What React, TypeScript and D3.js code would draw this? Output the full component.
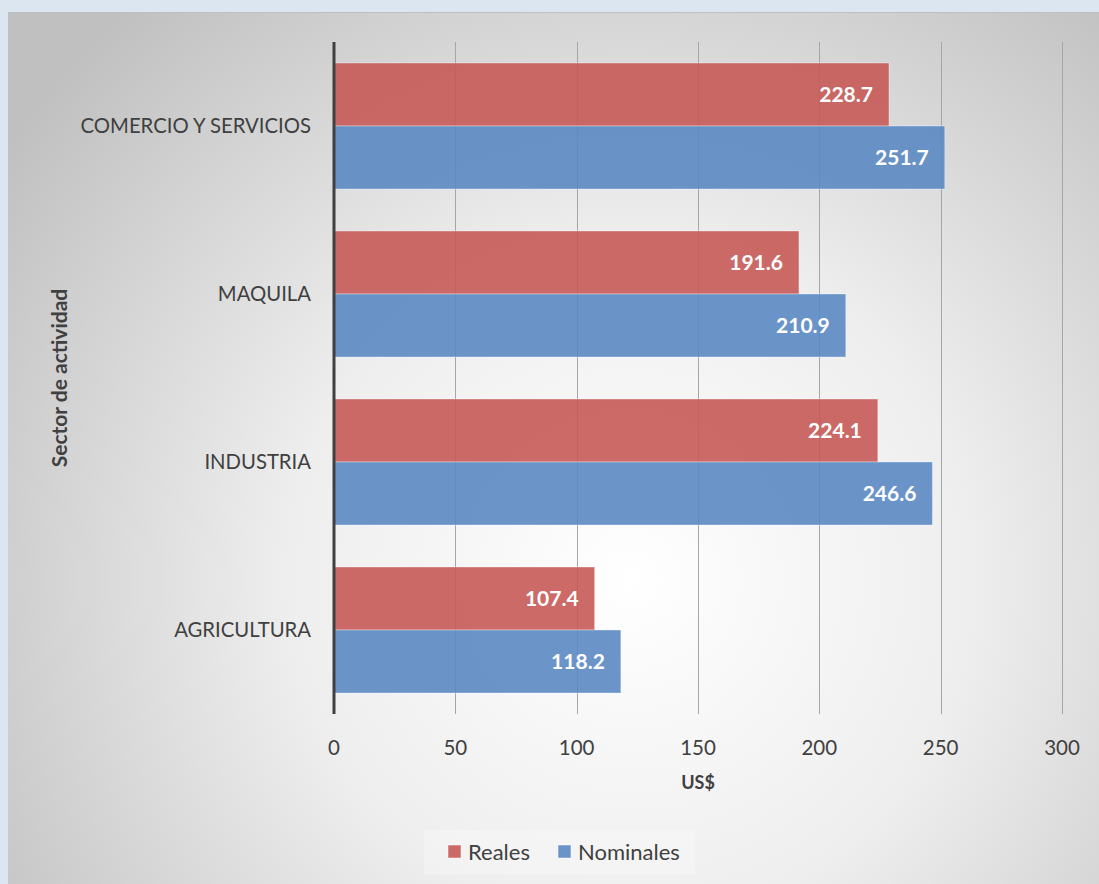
import React, { useEffect, useRef } from "react";
import * as d3 from "d3";

const sectors = ["COMERCIO Y SERVICIOS", "MAQUILA", "INDUSTRIA", "AGRICULTURA"];
const reales = [228.7, 191.6, 224.1, 107.4];
const nominales = [251.7, 210.9, 246.6, 118.2];
const seriesNames = ["Reales", "Nominales"];
const seriesColors = ["#c65a58", "#5b8ac3"];
const xTicks = [0, 50, 100, 150, 200, 250, 300];

const W = 1099;
const H = 884;

const App: React.FC = () => {
  const svgRef = useRef<SVGSVGElement>(null);

  useEffect(() => {
    const svgEl = svgRef.current;
    if (!svgEl) return;
    const svg = d3.select(svgEl);
    svg.selectAll("*").remove();

    const font = "Lato, 'Open Sans', sans-serif";
    const textColor = "#404040";

    // page background and chart panel
    svg.append("rect").attr("width", W).attr("height", H).attr("fill", "#dce6f1");

    const defs = svg.append("defs");
    const grad = defs
      .append("radialGradient")
      .attr("id", "bg")
      .attr("gradientUnits", "userSpaceOnUse")
      .attr("cx", 630)
      .attr("cy", 580)
      .attr("r", 760);
    grad.append("stop").attr("offset", "0%").attr("stop-color", "#ffffff");
    grad.append("stop").attr("offset", "45%").attr("stop-color", "#eeeeee");
    grad.append("stop").attr("offset", "100%").attr("stop-color", "#c0c0c0");

    svg
      .append("rect")
      .attr("x", 8)
      .attr("y", 12)
      .attr("width", W - 8)
      .attr("height", H - 12)
      .attr("fill", "url(#bg)");
    svg
      .append("line")
      .attr("x1", 8)
      .attr("x2", W)
      .attr("y1", 12.5)
      .attr("y2", 12.5)
      .attr("stroke", "#bfbfbf")
      .attr("stroke-width", 1);

    const left = 334;
    const right = 1062;
    const top = 42;
    const bottom = 714;

    const x = d3.scaleLinear().domain([0, 300]).range([left, right]);
    const y = d3
      .scaleBand<string>()
      .domain(sectors)
      .range([top, bottom])
      .paddingInner(0.25)
      .paddingOuter(0.125);

    const g = svg.append("g");

    // gridlines
    g.selectAll("line.grid")
      .data(xTicks.slice(1))
      .join("line")
      .attr("class", "grid")
      .attr("x1", (d) => Math.round(x(d)) + 0.5)
      .attr("x2", (d) => Math.round(x(d)) + 0.5)
      .attr("y1", top)
      .attr("y2", bottom)
      .attr("stroke", "#a6a6a6")
      .attr("stroke-width", 1);

    // bars
    const series = [reales, nominales];
    const barH = y.bandwidth() / 2;
    series.forEach((vals, si) => {
      g.selectAll(`rect.s${si}`)
        .data(sectors)
        .join("rect")
        .attr("class", `s${si}`)
        .attr("x", x(0))
        .attr("y", (d) => (y(d) ?? 0) + si * barH)
        .attr("width", (_, i) => x(vals[i]) - x(0))
        .attr("height", barH)
        .attr("fill", seriesColors[si])
        .attr("fill-opacity", 0.9)
        .attr("stroke", "#ffffff")
        .attr("stroke-opacity", 0.35)
        .attr("stroke-width", 1);

      g.selectAll(`text.l${si}`)
        .data(sectors)
        .join("text")
        .attr("class", `l${si}`)
        .attr("x", (_, i) => x(vals[i]) - 16)
        .attr("y", (d) => (y(d) ?? 0) + si * barH + barH / 2)
        .attr("dy", "0.35em")
        .attr("text-anchor", "end")
        .attr("font-family", font)
        .attr("font-size", 21)
        .attr("font-weight", "bold")
        .attr("fill", "#ffffff")
        .text((_, i) => vals[i].toFixed(1));
    });

    // vertical axis line
    g.append("line")
      .attr("x1", x(0))
      .attr("x2", x(0))
      .attr("y1", top)
      .attr("y2", bottom)
      .attr("stroke", "#404040")
      .attr("stroke-width", 3);

    // category labels
    g.selectAll("text.cat")
      .data(sectors)
      .join("text")
      .attr("class", "cat")
      .attr("x", 311)
      .attr("y", (d) => (y(d) ?? 0) + y.bandwidth() / 2)
      .attr("dy", "0.35em")
      .attr("text-anchor", "end")
      .attr("font-family", font)
      .attr("font-size", 20.3)
      .attr("fill", textColor)
      .text((d) => d);

    // x tick labels
    g.selectAll("text.tick")
      .data(xTicks)
      .join("text")
      .attr("class", "tick")
      .attr("x", (d) => x(d))
      .attr("y", 748)
      .attr("dy", "0.35em")
      .attr("text-anchor", "middle")
      .attr("font-family", font)
      .attr("font-size", 20.5)
      .attr("fill", textColor)
      .text((d) => d);

    // axis titles
    g.append("text")
      .attr("x", x(150))
      .attr("y", 783)
      .attr("dy", "0.35em")
      .attr("text-anchor", "middle")
      .attr("font-family", font)
      .attr("font-size", 18)
      .attr("font-weight", "bold")
      .attr("fill", textColor)
      .text("US$");

    g.append("text")
      .attr("transform", `translate(60, ${(top + bottom) / 2}) rotate(-90)`)
      .attr("dy", "0.35em")
      .attr("text-anchor", "middle")
      .attr("font-family", font)
      .attr("font-size", 21)
      .attr("font-weight", "bold")
      .attr("fill", textColor)
      .text("Sector de actividad");

    // legend
    const legend = svg.append("g");
    legend
      .append("rect")
      .attr("x", 424)
      .attr("y", 830)
      .attr("width", 271)
      .attr("height", 45)
      .attr("fill", "#ffffff")
      .attr("fill-opacity", 0.25);
    const legendX = [448, 558];
    seriesNames.forEach((name, i) => {
      legend
        .append("rect")
        .attr("x", legendX[i])
        .attr("y", 845)
        .attr("width", 13)
        .attr("height", 13)
        .attr("fill", seriesColors[i])
        .attr("fill-opacity", 0.9)
        .attr("stroke", "#ffffff")
        .attr("stroke-opacity", 0.5);
      legend
        .append("text")
        .attr("x", legendX[i] + 20)
        .attr("y", 852)
        .attr("dy", "0.35em")
        .attr("font-family", font)
        .attr("font-size", 22)
        .attr("fill", textColor)
        .text(name);
    });
  }, []);

  return (
    <svg
      ref={svgRef}
      width={W}
      height={H}
      style={{ position: "absolute", left: 0, top: 0, display: "block" }}
    />
  );
};

export default App;
